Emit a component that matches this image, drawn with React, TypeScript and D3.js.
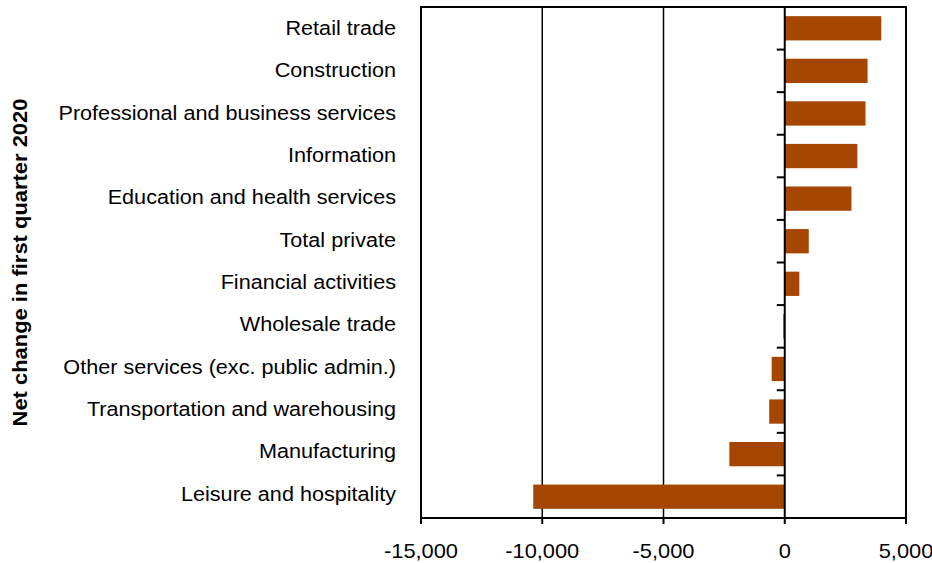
import React from "react";
import * as d3 from "d3";

const categories = [
  "Retail trade",
  "Construction",
  "Professional and business services",
  "Information",
  "Education and health services",
  "Total private",
  "Financial activities",
  "Wholesale trade",
  "Other services (exc. public admin.)",
  "Transportation and warehousing",
  "Manufacturing",
  "Leisure and hospitality",
];
const values = [3980, 3415, 3330, 2995, 2750, 990, 600, -60, -540, -640, -2285, -10370];
const xTicks = [-15000, -10000, -5000, 0, 5000];
const gridValues = [-10000, -5000];
const yTitle = "Net change in first quarter 2020";

const W = 932;
const H = 563;
const left = 421;
const right = 906;
const top = 7;
const bottom = 518;
const barColor = "#A44600";
const font = "'Liberation Sans', Arial, sans-serif";

export default function App() {
  const x = d3.scaleLinear().domain([-15000, 5000]).range([left, right]);
  const y = d3.scaleBand<string>().domain(categories).range([top, bottom]).paddingInner(0.43).paddingOuter(0.215);
  const band = d3.scaleBand<string>().domain(categories).range([top, bottom]);
  const labelPos = d3.scaleBand<string>().domain(categories).range([7, 515]);
  const fmt = (v: number) => d3.format(",")(v).replace("\u2212", "-");
  const x0 = x(0);
  return (
    <svg width={W} height={H} style={{ position: "absolute", left: 0, top: 0 }}>
      <rect width={W} height={H} fill="#fff" />
      {gridValues.map((g) => (
        <line key={g} x1={x(g)} x2={x(g)} y1={top} y2={bottom} stroke="#000" strokeWidth={1.5} />
      ))}
      {categories.map((c, i) => {
        const v = values[i];
        const bx = Math.min(x(v), x0);
        const bw = Math.abs(x(v) - x0);
        return <rect key={c} x={bx} y={y(c)} width={Math.max(bw, 1)} height={y.bandwidth()} fill={barColor} />;
      })}
      <line x1={x0} x2={x0} y1={top} y2={bottom} stroke="#000" strokeWidth={2} />
      {categories.slice(1).map((c) => (
        <line key={"t" + c} x1={x0 - 8} x2={x0} y1={band(c)} y2={band(c)} stroke="#000" strokeWidth={2} />
      ))}
      <rect x={left} y={top} width={right - left} height={bottom - top} fill="none" stroke="#000" strokeWidth={2} />
      {xTicks.map((t) => (
        <g key={t}>
          <line x1={x(t)} x2={x(t)} y1={bottom} y2={bottom + 6} stroke="#000" strokeWidth={2} />
          <text
            transform={`translate(${x(t)}, 558) scale(1.04, 1)`}
            textAnchor="middle"
            fontFamily={font}
            fontSize={21}
            fill="#000"
          >
            {fmt(t)}
          </text>
        </g>
      ))}
      {categories.map((c) => (
        <text
          key={"l" + c}
          transform={`translate(396, ${(labelPos(c) as number) + labelPos.bandwidth() / 2}) scale(1.03, 1)`}
          dy="0.32em"
          textAnchor="end"
          fontFamily={font}
          fontSize={21}
          fill="#000"
        >
          {c}
        </text>
      ))}
      <text
        transform={`translate(27, 262.5) rotate(-90) scale(1.045, 1)`}
        textAnchor="middle"
        fontFamily={font}
        fontSize={21}
        fontWeight="bold"
        fill="#000"
      >
        {yTitle}
      </text>
    </svg>
  );
}
